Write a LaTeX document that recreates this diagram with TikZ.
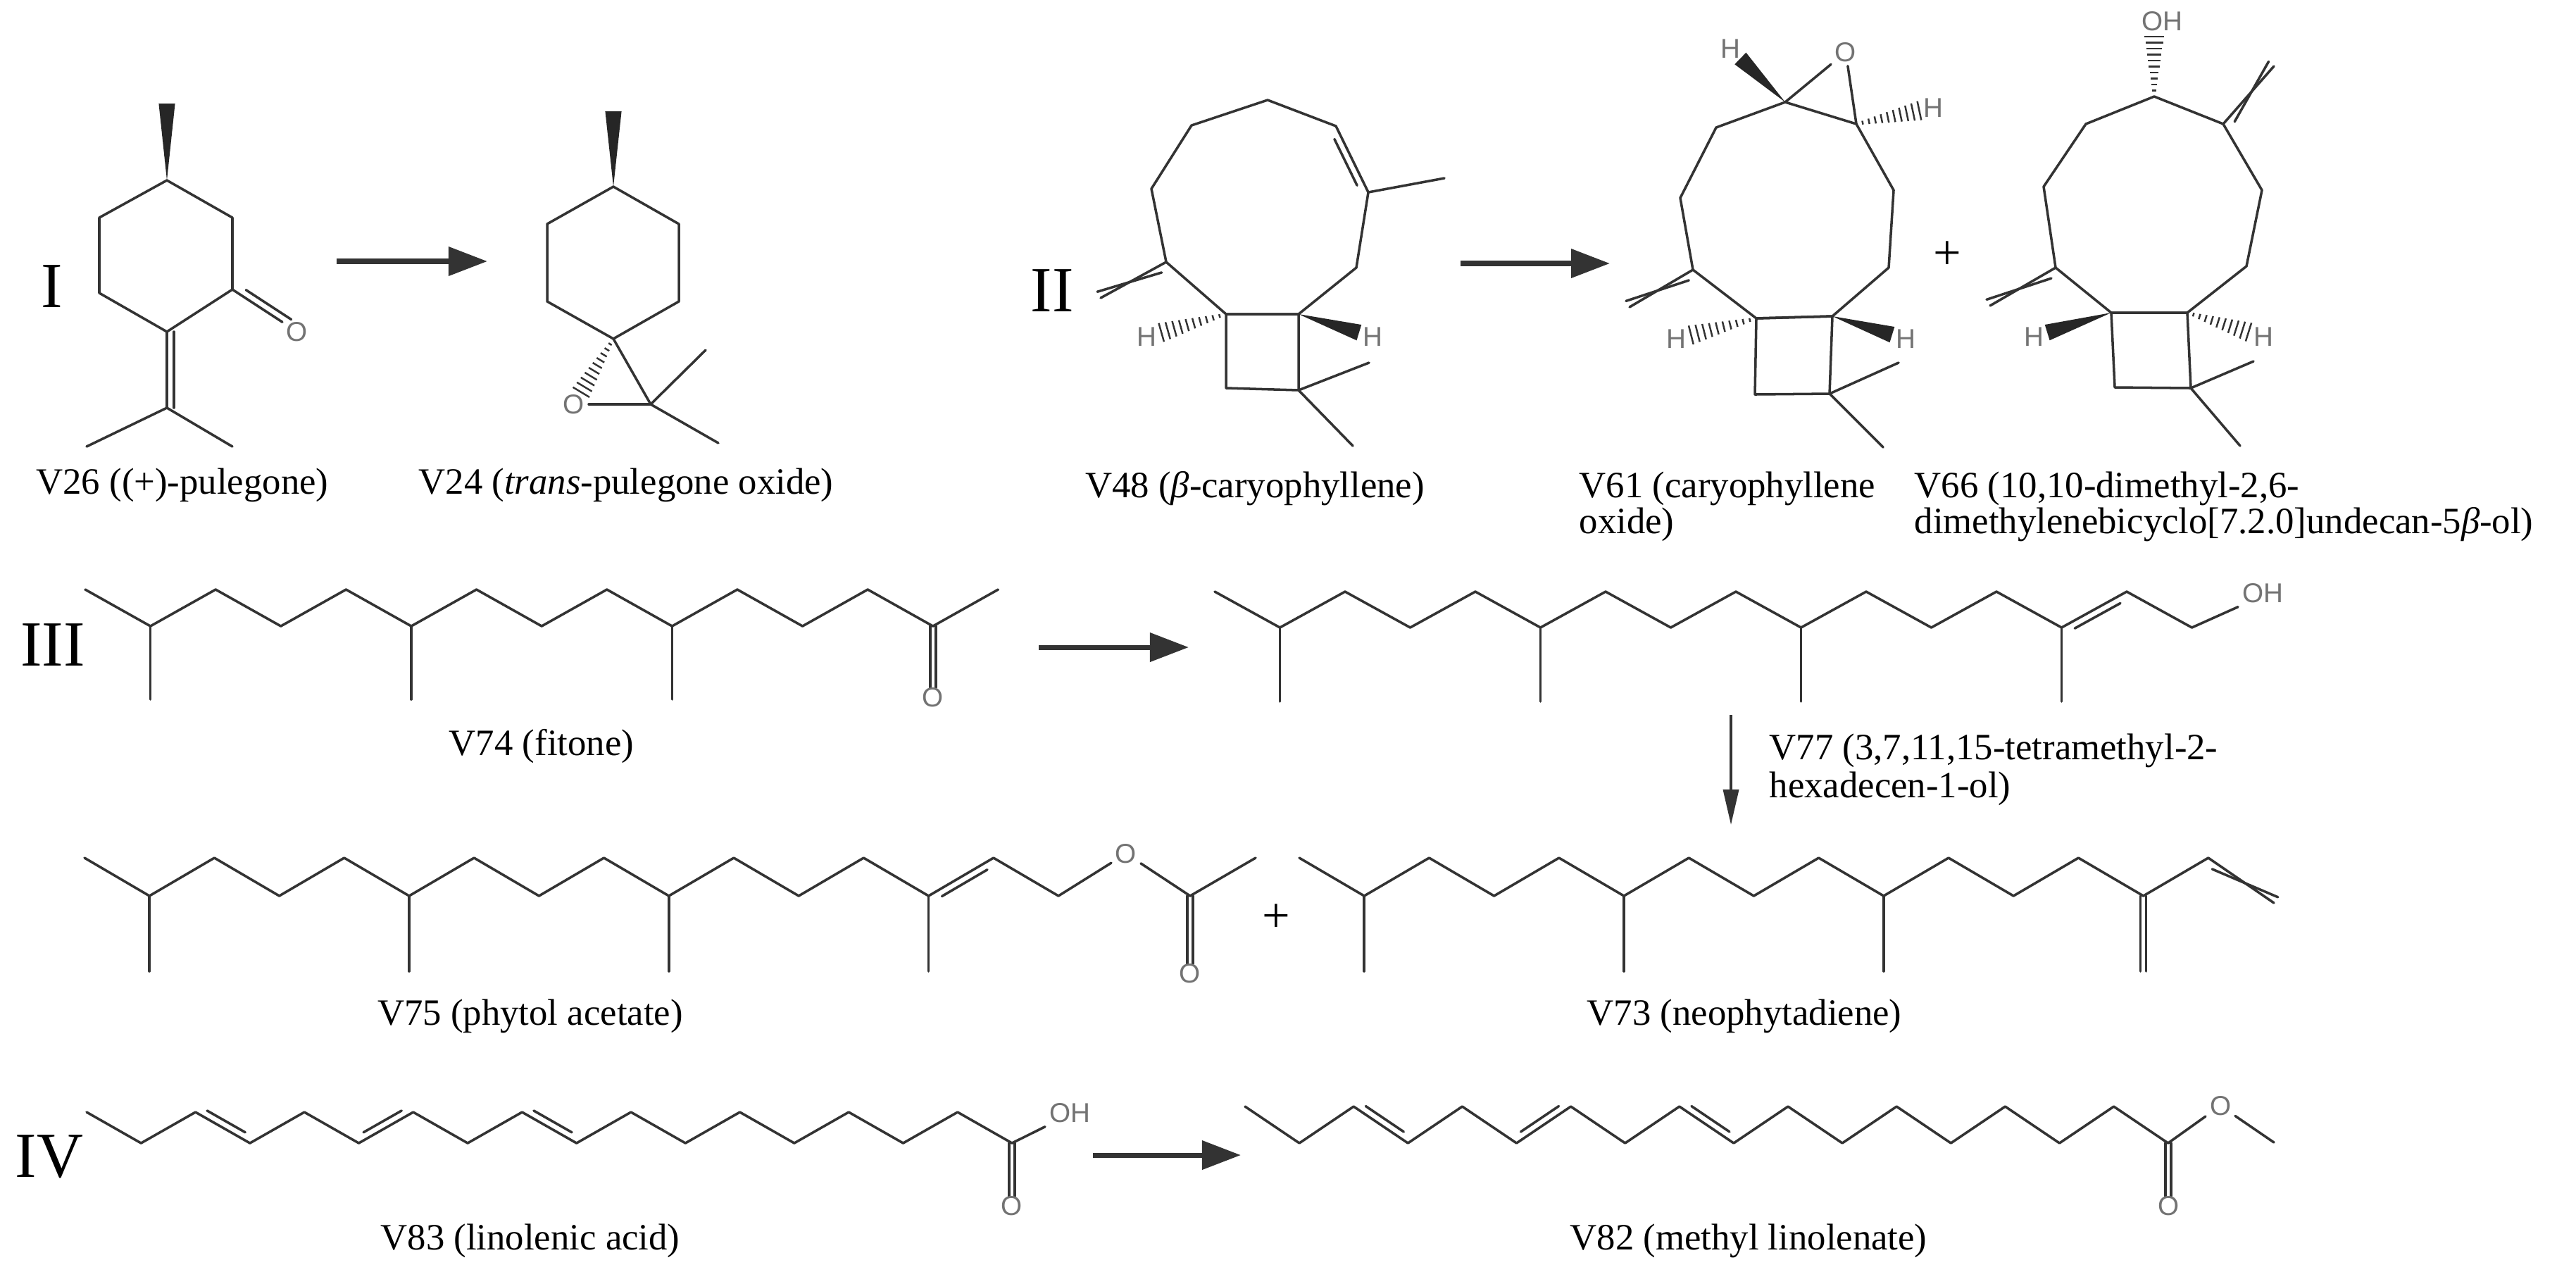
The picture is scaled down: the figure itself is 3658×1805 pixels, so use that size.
\documentclass[tikz,border=0pt]{standalone}
\usepackage{fontspec}
\setmainfont{Liberation Serif}
\setsansfont{Liberation Sans}
\usetikzlibrary{calc,arrows.meta}
\tikzset{
 bond/.style={line width=1pt,black!80,line cap=round,line join=round},
 hb/.style={line width=0.7pt,black!80},
 lbl/.style={font=\fontsize{15}{18}\selectfont,inner sep=0pt},
 roman/.style={font=\fontsize{26}{28}\selectfont,inner sep=0pt},
 atom/.style={font=\sffamily\fontsize{11}{11}\selectfont,text=black!55,inner sep=1.5pt},
 rxn/.style={line width=2pt,black!80,-{Triangle[length=0.55cm,width=0.4cm]}},
 rxnthin/.style={line width=1pt,black!80,-{Triangle[length=0.5cm,width=0.22cm]}},
}
\newcommand\chain[5]{\draw[bond] (#1,#3) \foreach \k in {1,...,#5}{ -- ({#1+\k*#2},{mod(\k,2)==1 ? #4 : #3}) };}
\newcommand\dbl[3]{\draw[bond] ($#1!0.15!#2!0.1cm!#3:#2$) -- ($#1!0.85!#2!0.1cm!#3:#2$);}
\newcommand\dblx[3]{\draw[bond] ($#1!0.12!#2!0.1cm!#3:#2$) -- ($#1!1!#2!0.1cm!#3:#1$);}
\newcommand\hashb[2]{\foreach \t in {0.1,0.2,...,1.0}{\pgfmathsetmacro\hw{\t*3.5+0.4}\draw[hb] ($#1!\t!#2!\hw pt!90:#1$) -- ($#1!\t!#2!\hw pt!-90:#1$);}}
\newcommand\wedgeb[2]{\fill[black!85] #1 -- ($#2!3.3pt!90:#1$) -- ($#2!3.3pt!-90:#1$) -- cycle;}
\newcommand\vdbl[3]{\draw[bond] ({#1-4},#2) -- ({#1-4},#3); \draw[bond] ({#1+4},#2) -- ({#1+4},#3);}
\begin{document}
\begin{tikzpicture}[x=0.01cm,y=-0.01cm]
\useasboundingbox (0,0) rectangle (3658,1805);
\fill[white] (0,0) rectangle (3658,1805);
% ---------- I : V26
\node[roman] (r1) at (74,407) {I};
\coordinate (a1) at (237,256); \coordinate (a2) at (330,309); \coordinate (a3) at (330,411);
\coordinate (a4) at (237,471); \coordinate (a5) at (141,416); \coordinate (a6) at (141,309);
\coordinate (a7) at (237,579); \coordinate (am) at (237,147);
\coordinate (a8) at (123,634); \coordinate (a9) at (330,634);
\node[atom] (aO) at (422,471) {O};
\draw[bond] (a1)--(a2)--(a3)--(a4)--(a5)--(a6)--cycle;
\draw[bond] (a3)--(aO);
\dbl{(a3)}{(aO)}{90}
\draw[bond] (a4)--(a7);
\draw[bond] ($(a4)+(10,0)$)--($(a7)+(10,0)$);
\draw[bond] (a8)--(a7)--(a9);
\wedgeb{(a1)}{(am)}
\node[lbl] (l26) at (259,689) {V26 ((+)-pulegone)};
\coordinate (ar1s) at (478,371); \coordinate (ar1e) at (692,371);
\draw[rxn] (ar1s)--(ar1e);
% ---------- V24
\coordinate (b1) at (871,265); \coordinate (bm) at (871,158); \coordinate (b2) at (964,318);
\coordinate (b3) at (964,428); \coordinate (b4) at (871,481); \coordinate (b5) at (777,428);
\coordinate (b6) at (777,318); \coordinate (b8) at (924,574);
\coordinate (b9) at (1002,497); \coordinate (b10) at (1020,629);
\node[atom] (bO) at (815,574) {O};
\draw[bond] (b1)--(b2)--(b3)--(b4)--(b5)--(b6)--cycle;
\draw[bond] (b4)--(b8); \draw[bond] (bO)--(b8);
\draw[bond] (b9)--(b8)--(b10);
\coordinate (bOe) at ($(bO)!0.2cm!(b4)$);
\hashb{(b4)}{(bOe)}
\wedgeb{(b1)}{(bm)}
\node[lbl] (l24) at (889,689) {V24 (\textit{trans}-pulegone oxide)};
% ---------- II : V48
\node[roman] (r2) at (1494,413) {II};
\coordinate (ca) at (1800,142); \coordinate (cb) at (1897,179); \coordinate (cc) at (1943,273);
\coordinate (cd) at (1926,380); \coordinate (ce) at (1844,446); \coordinate (cf) at (1741,446);
\coordinate (cg) at (1656,372); \coordinate (ch) at (1635,268); \coordinate (ci) at (1692,178);
\coordinate (cm) at (2051,253); \coordinate (cx) at (1563,423);
\coordinate (cy) at (1844,554); \coordinate (cz) at (1741,551);
\coordinate (cm1) at (1944,515); \coordinate (cm2) at (1921,633);
\draw[bond] (ca)--(cb)--(cc)--(cd)--(ce)--(cf)--(cg)--(ch)--(ci)--cycle;
\dbl{(cb)}{(cc)}{-90}
\draw[bond] (cc)--(cm);
\draw[bond] (cg)--(cx); \dblx{(cg)}{(cx)}{90}
\draw[bond] (cf)--(ce)--(cy)--(cz)--cycle;
\draw[bond] (cm1)--(cy)--(cm2);
\node[atom] (cHl) at (1628,478) {H}; \node[atom] (cHr) at (1949,478) {H};
\coordinate (cHle) at ($(cHl)!0.22cm!(cf)$); \coordinate (cHre) at ($(cHr)!0.2cm!(ce)$);
\hashb{(cf)}{(cHle)} \wedgeb{(ce)}{(cHre)}
\node[lbl] (l48) at (1782,694) {V48 (\textit{β}-caryophyllene)};
\coordinate (ar2s) at (2074,374); \coordinate (ar2e) at (2286,374);
\draw[rxn] (ar2s)--(ar2e);
% ---------- V61
\coordinate (da) at (2535,145); \coordinate (db) at (2636,176); \coordinate (dc) at (2689,270);
\coordinate (dd) at (2682,380); \coordinate (de) at (2602,449); \coordinate (df) at (2494,452);
\coordinate (dg) at (2404,383); \coordinate (dh) at (2386,281); \coordinate (di) at (2437,181);
\coordinate (dx) at (2314,436); \coordinate (dy) at (2598,559); \coordinate (dz) at (2492,560);
\coordinate (dm1) at (2696,515); \coordinate (dm2) at (2674,635);
\node[atom] (dO) at (2621,74) {O};
\draw[bond] (da)--(db)--(dc)--(dd)--(de)--(df)--(dg)--(dh)--(di)--cycle;
\draw[bond] (da)--(dO)--(db);
\node[atom] (dHt) at (2457,69) {H}; \node[atom] (dHr) at (2745,153) {H};
\coordinate (dHte) at ($(dHt)!0.2cm!(da)$); \coordinate (dHre) at ($(dHr)!0.2cm!(db)$);
\wedgeb{(da)}{(dHte)} \hashb{(db)}{(dHre)}
\draw[bond] (dg)--(dx); \dblx{(dg)}{(dx)}{90}
\draw[bond] (df)--(de)--(dy)--(dz)--cycle;
\draw[bond] (dm1)--(dy)--(dm2);
\node[atom] (dHl) at (2380,481) {H}; \node[atom] (dHr2) at (2706,481) {H};
\coordinate (dHle) at ($(dHl)!0.22cm!(df)$); \coordinate (dHr2e) at ($(dHr2)!0.2cm!(de)$);
\hashb{(df)}{(dHle)} \wedgeb{(de)}{(dHr2e)}
\node[lbl,anchor=west] (l61a) at (2242,694) {V61 (caryophyllene};
\node[lbl,anchor=west] (l61b) at (2242,745) {oxide)};
\node[lbl,font=\fontsize{20}{20}\selectfont] (plus1) at (2765,363) {+};
% ---------- V66
\coordinate (ea) at (3059,137); \coordinate (eb) at (3157,176); \coordinate (ec) at (3212,270);
\coordinate (ed) at (3190,378); \coordinate (ee) at (3106,444); \coordinate (ef) at (2998,444);
\coordinate (eg) at (2919,380); \coordinate (eh) at (2902,265); \coordinate (ei) at (2962,176);
\coordinate (ex1) at (3229,94); \coordinate (ex2) at (2826,434);
\coordinate (ey) at (3111,551); \coordinate (ez) at (3003,550);
\coordinate (em1) at (3200,513); \coordinate (em2) at (3181,633);
\draw[bond] (ea)--(eb)--(ec)--(ed)--(ee)--(ef)--(eg)--(eh)--(ei)--cycle;
\node[atom] (eOH) at (3070,30) {OH};
\coordinate (eOHe) at (3059,52);
\hashb{(ea)}{(eOHe)}
\draw[bond] (eb)--(ex1); \dblx{(eb)}{(ex1)}{-90}
\draw[bond] (eg)--(ex2); \dblx{(eg)}{(ex2)}{90}
\draw[bond] (ef)--(ee)--(ey)--(ez)--cycle;
\draw[bond] (em1)--(ey)--(em2);
\node[atom] (eHl) at (2888,478) {H}; \node[atom] (eHr) at (3214,478) {H};
\coordinate (eHle) at ($(eHl)!0.2cm!(ef)$); \coordinate (eHre) at ($(eHr)!0.22cm!(ee)$);
\wedgeb{(ef)}{(eHle)} \hashb{(ee)}{(eHre)}
\node[lbl,anchor=west] (l66a) at (2718,694) {V66 (10,10-dimethyl-2,6-};
\node[lbl,anchor=west] (l66b) at (2718,745) {dimethylenebicyclo[7.2.0]undecan-5\textit{β}-ol)};
% ---------- III : V74
\node[roman] (r3) at (75,916) {III};
\chain{121}{92.6}{837}{889}{14}
\foreach \xx in {213.6,584,954.4}{\draw[bond] (\xx,889)--(\xx,993);}
\vdbl{1324.8}{889}{976}
\node[atom] (fO) at (1325,990) {O};
\node[lbl] (l74) at (769,1060) {V74 (fitone)};
\coordinate (ar3s) at (1475,919); \coordinate (ar3e) at (1688,919);
\draw[rxn] (ar3s)--(ar3e);
% ---------- V77
\chain{1725}{92.5}{840}{891}{15}
\foreach \xx in {1817.5,2187.5,2557.5,2927.5}{\draw[bond] (\xx,891)--(\xx,996);}
\dbl{(2927.5,891)}{(3020,840)}{-90}
\coordinate (g15) at (3112.5,891);
\node[atom] (gOH) at (3213,842) {OH};
\draw[bond] (g15)--(gOH.south west);
\coordinate (ar4s) at (2458,1015); \coordinate (ar4e) at (2458,1171);
\draw[rxnthin] (ar4s)--(ar4e);
\node[lbl,anchor=west] (l77a) at (2512,1066) {V77 (3,7,11,15-tetramethyl-2-};
\node[lbl,anchor=west] (l77b) at (2512,1120) {hexadecen-1-ol)};
% ---------- V75
\chain{120}{92.2}{1218}{1272}{15}
\foreach \xx in {212.2,581,949.8,1318.6}{\draw[bond] (\xx,1272)--(\xx,1379);}
\dbl{(1318.6,1272)}{(1410.8,1218)}{-90}
\coordinate (h15) at (1503,1272); \coordinate (h17) at (1690,1272); \coordinate (h18) at (1783,1218);
\node[atom] (hO1) at (1599,1212) {O};
\draw[bond] (h15)--(hO1)--(h17)--(h18);
\vdbl{1690}{1272}{1368}
\node[atom] (hO2) at (1690,1382) {O};
\node[lbl,font=\fontsize{20}{20}\selectfont] (plus2) at (1812,1304) {+};
\node[lbl] (l75) at (753,1443) {V75 (phytol acetate)};
% ---------- V73
\chain{1845}{92.2}{1218}{1272}{14}
\foreach \xx in {1937.2,2306,2674.8}{\draw[bond] (\xx,1272)--(\xx,1379);}
\vdbl{3043.6}{1272}{1379}
\coordinate (i14) at (3135.8,1218); \coordinate (i15) at (3229,1282);
\draw[bond] (i14)--(i15); \dblx{(i14)}{(i15)}{-90}
\node[lbl] (l73) at (2477,1443) {V73 (neophytadiene)};
% ---------- IV : V83
\node[roman] (r4) at (70,1642) {IV};
\chain{123}{77.3}{1579}{1623}{17}
\dbl{(277.6,1579)}{(354.9,1623)}{90}
\dbl{(509.5,1623)}{(586.8,1579)}{90}
\dbl{(741.4,1579)}{(818.7,1623)}{90}
\coordinate (j17) at (1437,1623);
\node[atom] (jOH) at (1519,1580) {OH};
\draw[bond] (j17)--(jOH.south west);
\vdbl{1437}{1623}{1698}
\node[atom] (jO) at (1437,1712) {O};
\node[lbl] (l83) at (753,1762) {V83 (linolenic acid)};
\coordinate (ar5s) at (1552,1640); \coordinate (ar5e) at (1762,1640);
\draw[rxn] (ar5s)--(ar5e);
% ---------- V82
\chain{1768}{77.1}{1571}{1623}{17}
\dbl{(1922.2,1571)}{(1999.3,1623)}{90}
\dbl{(2153.5,1623)}{(2230.6,1571)}{90}
\dbl{(2384.8,1571)}{(2461.9,1623)}{90}
\coordinate (k17) at (3078.7,1623); \coordinate (k19) at (3229,1622);
\node[atom] (kO1) at (3153,1570) {O};
\draw[bond] (k17)--(kO1)--(k19);
\vdbl{3078.7}{1623}{1698}
\node[atom] (kO2) at (3079,1712) {O};
\node[lbl] (l82) at (2483,1762) {V82 (methyl linolenate)};
\end{tikzpicture}
\end{document}
